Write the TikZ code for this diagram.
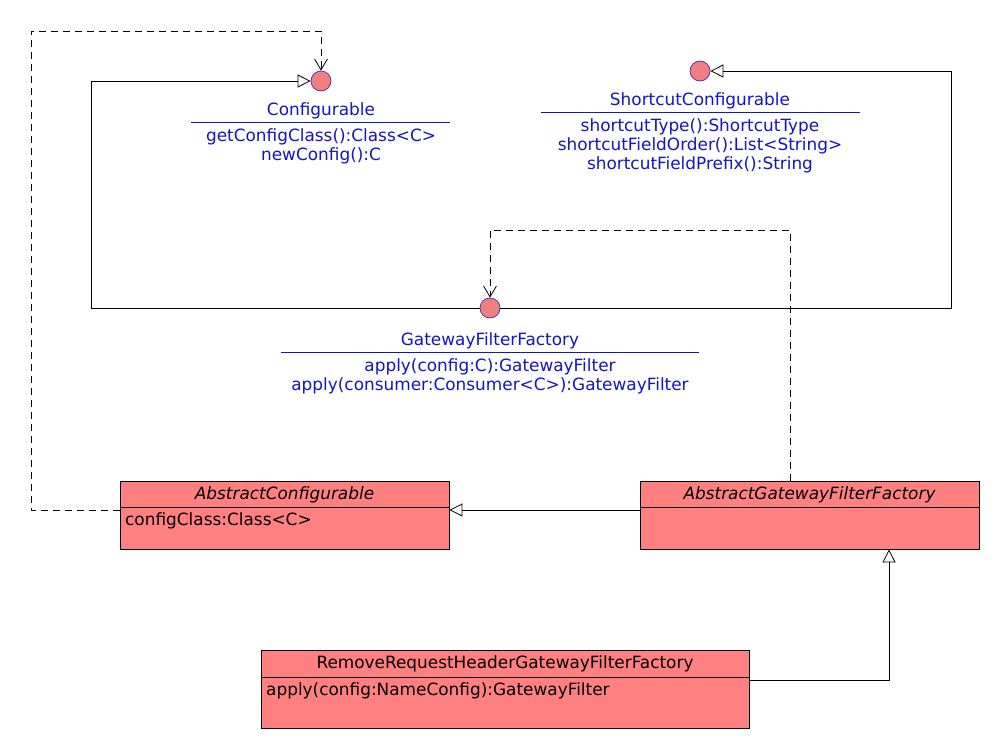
\documentclass[tikz,border=0pt]{standalone}
\usepackage{fontspec}
\setmainfont{DejaVu Sans}
\usetikzlibrary{arrows.meta}
\definecolor{ublue}{RGB}{20,20,200}
\definecolor{iborder}{RGB}{70,40,170}
\definecolor{ifill}{RGB}{240,128,128}
\definecolor{cfill}{RGB}{255,128,128}
\begin{document}
\begin{tikzpicture}[x=1pt,y=-1pt,
 iface/.style={circle, draw=iborder, fill=ifill, minimum size=20pt, inner sep=0pt, line width=0.7pt},
 itext/.style={text=ublue, font=\fontsize{16.9}{19}\selectfont, align=center, inner sep=0pt},
 isep/.style={draw=ublue, line width=0.8pt},
 cls/.style={draw=black, fill=cfill, rectangle, inner sep=0pt, line width=0.8pt},
 ctext/.style={font=\fontsize{16.9}{19}\selectfont, inner sep=0pt},
 csep/.style={draw=black, line width=0.8pt},
 realize/.style={draw=black, line width=0.8pt, -{Triangle[open,length=13pt,width=13pt]}},
 dep/.style={draw=black, line width=0.8pt, dash pattern=on 7pt off 5pt, -{Straight Barb[length=11pt,width=13pt]}}]
\path[use as bounding box, fill=white] (0,0) rectangle (1000,750);

% interfaces
\node[iface] (cfg) at (321,81) {};
\node[itext] (cfgname) at (321,111) {Configurable};
\draw[isep] (191,122) -- (450,122);
\node[itext] (cfgops) at (321,146) {getConfigClass():Class<C>\\newConfig():C};

\node[iface] (sc) at (700,71) {};
\node[itext] (scname) at (700,101) {ShortcutConfigurable};
\draw[isep] (541,112) -- (860,112);
\node[itext] (scops) at (700,146) {shortcutType():ShortcutType\\shortcutFieldOrder():List<String>\\shortcutFieldPrefix():String};

\node[iface] (gff) at (490,308) {};
\node[itext] (gffname) at (490,341) {GatewayFilterFactory};
\draw[isep] (281,352) -- (699,352);
\node[itext] (gffops) at (490,376) {apply(config:C):GatewayFilter\\apply(consumer:Consumer<C>):GatewayFilter};

% classes
\node[cls, minimum width=329pt, minimum height=68pt] (ac) at (284.5,515) {};
\node[ctext] (actitle) at (284.5,495) {\itshape AbstractConfigurable};
\draw[csep] (120,507) -- (449,507);
\node[ctext, anchor=west] (acattr) at (125,521) {configClass:Class<C>};

\node[cls, minimum width=339pt, minimum height=68pt] (agf) at (809.5,515) {};
\node[ctext] (agftitle) at (809.5,495) {\itshape AbstractGatewayFilterFactory};
\draw[csep] (640,507) -- (979,507);

\node[cls, minimum width=488pt, minimum height=78pt] (rr) at (505,689) {};
\node[ctext] (rrtitle) at (505,664) {RemoveRequestHeaderGatewayFilterFactory};
\draw[csep] (261,677) -- (749,677);
\node[ctext, anchor=west] (rrop) at (266,691) {apply(config:NameConfig):GatewayFilter};

% connectors
\draw[dep] ([yshift=5pt]ac.west) -- (31,510) |- (cfg.north |- 0,31) -- (cfg.north);
\draw[realize] (gff.west) -| (91,81) -- (cfg.west);
\draw[realize] (gff.east) -| (951,71) -- (sc.east);
\draw[dep] (agf.north -| 790,0) |- (gff.north |- 0,230) -- (gff.north);
\draw[realize] ([yshift=5pt]agf.west) -- ([yshift=5pt]ac.east);
\draw[realize] ([yshift=9pt]rr.east) -| (agf.south -| 889,0);
\end{tikzpicture}
\end{document}
